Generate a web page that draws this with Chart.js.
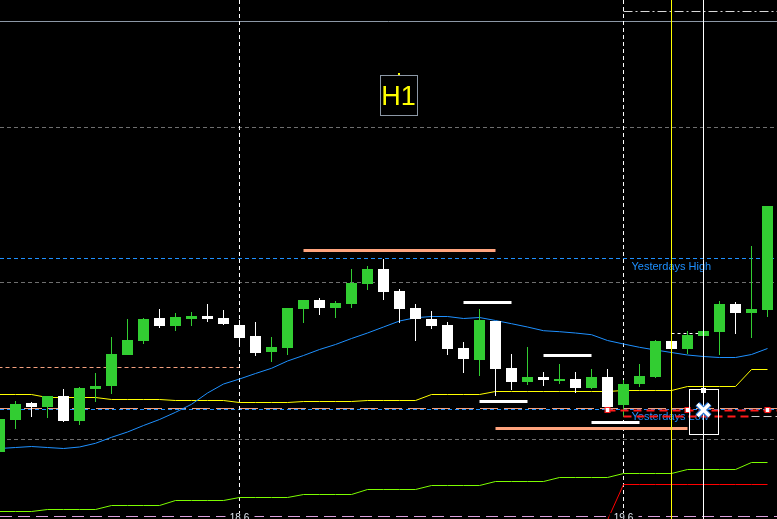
<!DOCTYPE html>
<html lang="en">
<head>
<meta charset="UTF-8">
<title>H1</title>
<script src="https://cdn.jsdelivr.net/npm/chart.js"></script>
<style>
  html, body { margin: 0; padding: 0; background: #000; overflow: hidden; }
  canvas { display: block; }
</style>
</head>
<body>
<canvas id="chart" width="777" height="519"></canvas>
<script>
// prices in points above the bottom of the window, one entry per H1 bar
const opens  = [67, 99, 116, 112, 123, 98, 130, 133, 164, 178, 201, 193, 200, 203, 201, 194, 183, 167, 171, 210,
                219, 211, 215, 235, 250, 228, 211, 200, 194, 171, 159, 198, 151, 137, 142, 138, 140, 131, 142, 114,
                135, 142, 178, 170, 183, 187, 215, 206, 209];
const highs  = [101, 118, 117, 123, 130, 132, 146, 182, 200, 201, 210, 206, 207, 215, 209, 199, 197, 182, 211, 219,
                221, 218, 250, 253, 260, 230, 215, 208, 197, 177, 210, 198, 165, 172, 147, 155, 147, 150, 150, 139,
                155, 179, 178, 188, 188, 218, 217, 273, 313];
const lows   = [66, 90, 102, 101, 97, 94, 117, 125, 164, 175, 191, 188, 193, 197, 194, 172, 163, 157, 164, 196,
                204, 201, 211, 229, 219, 196, 178, 190, 164, 146, 143, 123, 129, 134, 133, 135, 126, 130, 112, 102,
                132, 141, 170, 165, 183, 164, 185, 181, 202];
const closes = [100, 115, 112, 123, 98, 131, 133, 165, 179, 200, 193, 202, 203, 200, 195, 181, 166, 172, 211, 219,
                211, 216, 236, 250, 227, 210, 200, 193, 170, 160, 199, 150, 137, 142, 139, 140, 131, 142, 112, 135,
                143, 178, 170, 184, 188, 215, 206, 210, 313];

// indicator lines
const maBlue = [70.5, 71.5, 72.5, 71.5, 70.5, 72, 75.7, 81.7, 87, 93.5, 99.5, 106.7, 114.7, 126, 135, 140, 145.5,
                150.7, 158, 163.5, 169.5, 174.5, 180.5, 186, 192, 198, 201.3, 202.5, 202.5, 200.5, 201.5, 198.5,
                195.3, 192, 188.3, 187.3, 186, 184.3, 178.5, 175, 171.7, 169, 166.5, 164, 162.5, 161.5, 161.5, 164.5, 170.5];
const maYellow = [124.5, 124.5, 124.5, 121.5, 121.5, 121.5, 121.5, 119.5, 119.5, 119.5, 119.5, 118.5, 118.5, 118.5,
                  118.5, 116.5, 116.5, 116.5, 116.5, 117.5, 117.5, 117.5, 117.5, 118.5, 118.5, 118.5, 118.5, 124.5,
                  124.5, 124.5, 124.5, 127.5, 127.5, 127.5, 127.5, 127.5, 127.5, 127.5, 127.5, 128.5, 128.5, 128.5,
                  128.5, 132.5, 132.5, 132.5, 132.5, 149.5, 149.5];
const maLime = [7.5, 7.5, 7.5, 9.5, 9.5, 9.5, 9.5, 13.5, 13.5, 13.5, 13.5, 18.5, 18.5, 18.5, 18.5, 21.5, 21.5, 21.5,
                21.5, 24.5, 24.5, 24.5, 24.5, 29.5, 29.5, 29.5, 29.5, 33.5, 33.5, 33.5, 33.5, 37.5, 37.5, 37.5, 37.5,
                41.5, 41.5, 41.5, 41.5, 45.5, 45.5, 45.5, 45.5, 49.5, 49.5, 49.5, 49.5, 56.5, 56.5];
const redLine = [null, null, null, null, null, null, null, null, null, null, null, null, null, null, null, null,
                 null, null, null, null, null, null, null, null, null, null, null, null, null, null, null, null,
                 null, null, null, null, null, null, -1, 34.5, 34.5, 34.5, 34.5, 34.5, 34.5, 34.5, 34.5, 34.5, 34.5];

// levels and objects
const yesterdaysHigh = 261;
const yesterdaysLow = 110;
const pivotDashed = 111;
const gridLevels = [392, 237, 80];
const topLevel = 498;
const leftLevel = { from: 0, to: 15, value: 152 };
const salmonSegments = [[19, 31, 269], [31, 43, 91]];
const whiteSegments = [[29, 32, 217], [30, 33, 118], [34, 37, 164], [37, 40, 97]];
const orderLine = { from: 38, value: 109, marks: [38, 43, 48] };
const stopLevel = { from: 39, split: 47, value: 103.5 };
const entryLine = { from: 42, to: 43.66, value: 186 };
const topDashDot = { from: 39, value: 508 };
const daySeparators = [15, 39];
const dayLabels = ['18.6', '19.6'];
const yellowCursor = 42;
const whiteCursor = 44;
const markerBox = { from: 43.1, to: 44.9, top: 130, bottom: 85, cross: 109 };

const idx = opens.map((_, i) => i);
const bull = idx.map(i => closes[i] >= opens[i]);
const GREEN = '#32cd32';

const overlay = {
  id: 'overlay',
  beforeDatasetsDraw(chart) {
    const { ctx, chartArea: a, scales: { x, y } } = chart;
    const py = v => Math.round(y.getPixelForValue(v)) + 0.5;
    const px = i => x.getPixelForValue(i);
    const hline = (v, color, dash, x0, x1, w) => {
      ctx.save();
      ctx.strokeStyle = color;
      ctx.lineWidth = w || 1;
      ctx.setLineDash(dash || []);
      ctx.beginPath();
      ctx.moveTo(x0 === undefined ? a.left : x0, py(v));
      ctx.lineTo(x1 === undefined ? a.right : x1, py(v));
      ctx.stroke();
      ctx.restore();
    };
    ctx.save();
    ctx.fillStyle = '#000';
    ctx.fillRect(a.left, a.top, a.width, a.height);
    ctx.restore();

    gridLevels.forEach(v => hline(v, '#6f6f6f', [4, 3]));
    hline(topLevel, '#8c98a6');
    hline(yesterdaysHigh, '#1e90ff', [4, 3]);
    hline(yesterdaysLow, '#1e90ff', [4, 3]);
    hline(pivotDashed, '#f4a07e', [18, 6]);
    hline(leftLevel.value, '#f4a07e', [4, 3], px(leftLevel.from) - 8, px(leftLevel.to));
    hline(3, '#dda0dd', [12, 6]);

    // day separators
    ctx.save();
    ctx.strokeStyle = '#ffffff';
    ctx.setLineDash([4, 3]);
    daySeparators.forEach(i => {
      ctx.beginPath();
      ctx.moveTo(px(i), a.top);
      ctx.lineTo(px(i), a.bottom);
      ctx.stroke();
    });
    ctx.restore();

    salmonSegments.forEach(s => hline(s[2], '#ffa47e', [], px(s[0]), px(s[1]), 3));
    whiteSegments.forEach(s => hline(s[2], '#ffffff', [], px(s[0]), px(s[1]), 3));
  },
  afterDatasetsDraw(chart) {
    const { ctx, chartArea: a, scales: { x, y } } = chart;
    const py = v => Math.round(y.getPixelForValue(v)) + 0.5;
    const px = i => x.getPixelForValue(i);

    // labels of yesterday's range
    ctx.save();
    ctx.font = '11px "Liberation Sans", Arial, sans-serif';
    ctx.fillStyle = '#1e90ff';
    ctx.textBaseline = 'alphabetic';
    ctx.fillText('Yesterdays High', px(39) + 8, y.getPixelForValue(yesterdaysHigh) + 12);
    ctx.fillText('Yesterdays Low', px(39) + 8, y.getPixelForValue(yesterdaysLow) + 11);
    ctx.restore();

    // trade lines
    ctx.save();
    ctx.lineWidth = 2;
    ctx.strokeStyle = '#ff1a1a';
    ctx.setLineDash([8, 5]);
    ctx.beginPath();
    ctx.moveTo(px(orderLine.from), py(orderLine.value));
    ctx.lineTo(a.right, py(orderLine.value));
    ctx.stroke();
    ctx.beginPath();
    ctx.moveTo(px(stopLevel.from), py(stopLevel.value));
    ctx.lineTo(px(stopLevel.split), py(stopLevel.value));
    ctx.stroke();
    ctx.lineWidth = 1;
    ctx.strokeStyle = '#cfcfcf';
    ctx.setLineDash([8, 4]);
    ctx.beginPath();
    ctx.moveTo(px(stopLevel.split), py(stopLevel.value));
    ctx.lineTo(a.right, py(stopLevel.value));
    ctx.stroke();
    ctx.restore();

    orderLine.marks.forEach(i => {
      ctx.save();
      ctx.fillStyle = '#ffffff';
      ctx.strokeStyle = '#ff1a1a';
      ctx.lineWidth = 1;
      ctx.fillRect(px(i) - 2, py(orderLine.value) - 2.5, 4, 4);
      ctx.strokeRect(px(i) - 2.5, py(orderLine.value) - 3, 5, 5);
      ctx.restore();
    });

    // entry dashed line
    ctx.save();
    ctx.strokeStyle = '#ffffff';
    ctx.setLineDash([3, 3]);
    ctx.beginPath();
    ctx.moveTo(px(entryLine.from), py(entryLine.value));
    ctx.lineTo(px(entryLine.to), py(entryLine.value));
    ctx.stroke();
    ctx.restore();

    // top dash-dot
    ctx.save();
    ctx.strokeStyle = '#d8d8d8';
    ctx.setLineDash([9, 3, 2, 3]);
    ctx.beginPath();
    ctx.moveTo(px(topDashDot.from), py(topDashDot.value));
    ctx.lineTo(a.right, py(topDashDot.value));
    ctx.stroke();
    ctx.restore();

    // cursors
    ctx.save();
    ctx.lineWidth = 1;
    ctx.strokeStyle = '#ffff00';
    ctx.beginPath();
    ctx.moveTo(px(yellowCursor), a.top);
    ctx.lineTo(px(yellowCursor), a.bottom);
    ctx.stroke();
    ctx.strokeStyle = '#ffffff';
    ctx.beginPath();
    ctx.moveTo(px(whiteCursor), a.top);
    ctx.lineTo(px(whiteCursor), a.bottom);
    ctx.stroke();
    ctx.restore();

    // marker box with cross
    ctx.save();
    const bx0 = Math.round(px(markerBox.from)) + 0.5;
    const bx1 = Math.round(px(markerBox.to)) + 0.5;
    const by0 = py(markerBox.top);
    const by1 = py(markerBox.bottom);
    ctx.strokeStyle = '#ffffff';
    ctx.strokeRect(bx0, by0, bx1 - bx0, by1 - by0);
    ctx.fillStyle = '#ffffff';
    ctx.fillRect(px(whiteCursor) - 2.5, by0 - 1.5, 5, 5);
    const cx = px(whiteCursor), cy = y.getPixelForValue(markerBox.cross);
    [['#1e6fd0', 6], ['#ffffff', 3.5]].forEach(([c, w]) => {
      ctx.strokeStyle = c;
      ctx.lineWidth = w;
      ctx.beginPath();
      ctx.moveTo(cx - 6, cy - 6); ctx.lineTo(cx + 6, cy + 6);
      ctx.moveTo(cx + 6, cy - 6); ctx.lineTo(cx - 6, cy + 6);
      ctx.stroke();
    });
    ctx.restore();

    // timeframe label
    ctx.save();
    const hx = (a.left + a.right) / 2 + 10;
    ctx.strokeStyle = '#8c98a6';
    ctx.strokeRect(Math.round(hx - 19) + 0.5, 75.5, 37, 40);
    ctx.fillStyle = '#ffff00';
    ctx.fillRect(Math.round(hx) - 1, 73, 2, 2);
    ctx.font = '27px "Liberation Sans", Arial, sans-serif';
    ctx.textAlign = 'center';
    ctx.textBaseline = 'alphabetic';
    ctx.fillText('H1', hx, 105);
    ctx.restore();

    // day labels on the time axis
    ctx.save();
    ctx.font = '10px "Liberation Sans", Arial, sans-serif';
    ctx.textAlign = 'center';
    ctx.textBaseline = 'top';
    daySeparators.forEach((i, k) => {
      ctx.fillStyle = '#000';
      ctx.fillRect(px(i) - 14, a.bottom - 6, 29, 6);
      ctx.fillStyle = '#dfe6f0';
      ctx.fillText(dayLabels[k], px(i), a.bottom - 6);
    });
    ctx.restore();
  }
};

const line = (data, color, order) => ({
  type: 'line',
  data: idx.map(i => ({ x: i, y: data[i] })),
  borderColor: color,
  borderWidth: 1,
  pointRadius: 0,
  tension: 0,
  spanGaps: false,
  order
});

new Chart(document.getElementById('chart'), {
  type: 'bar',
  data: {
    datasets: [
      {
        label: 'body',
        data: idx.map(i => ({ x: i, y: [Math.min(opens[i], closes[i]), Math.max(opens[i], closes[i])] })),
        backgroundColor: idx.map(i => bull[i] ? GREEN : '#ffffff'),
        barThickness: 11,
        grouped: false,
        inflateAmount: 0,
        borderWidth: 0,
        order: 0
      },
      {
        label: 'wick',
        data: idx.map(i => ({ x: i, y: [lows[i], highs[i]] })),
        backgroundColor: idx.map(i => bull[i] ? GREEN : '#ffffff'),
        barThickness: 1,
        grouped: false,
        inflateAmount: 0,
        borderWidth: 0,
        order: 1
      },
      line(maBlue, '#1e90ff', 2),
      line(maYellow, '#ffff00', 3),
      line(maLime, '#7cfc00', 4),
      line(redLine, '#ff0000', 5)
    ]
  },
  options: {
    responsive: false,
    animation: false,
    events: [],
    layout: { padding: 0 },
    plugins: { legend: { display: false }, tooltip: { enabled: false } },
    scales: {
      x: { type: 'linear', min: 0.03125, max: 48.59375, offset: false, display: false },
      y: { min: 0, max: 519, display: false }
    }
  },
  plugins: [overlay]
});
</script>
</body>
</html>
